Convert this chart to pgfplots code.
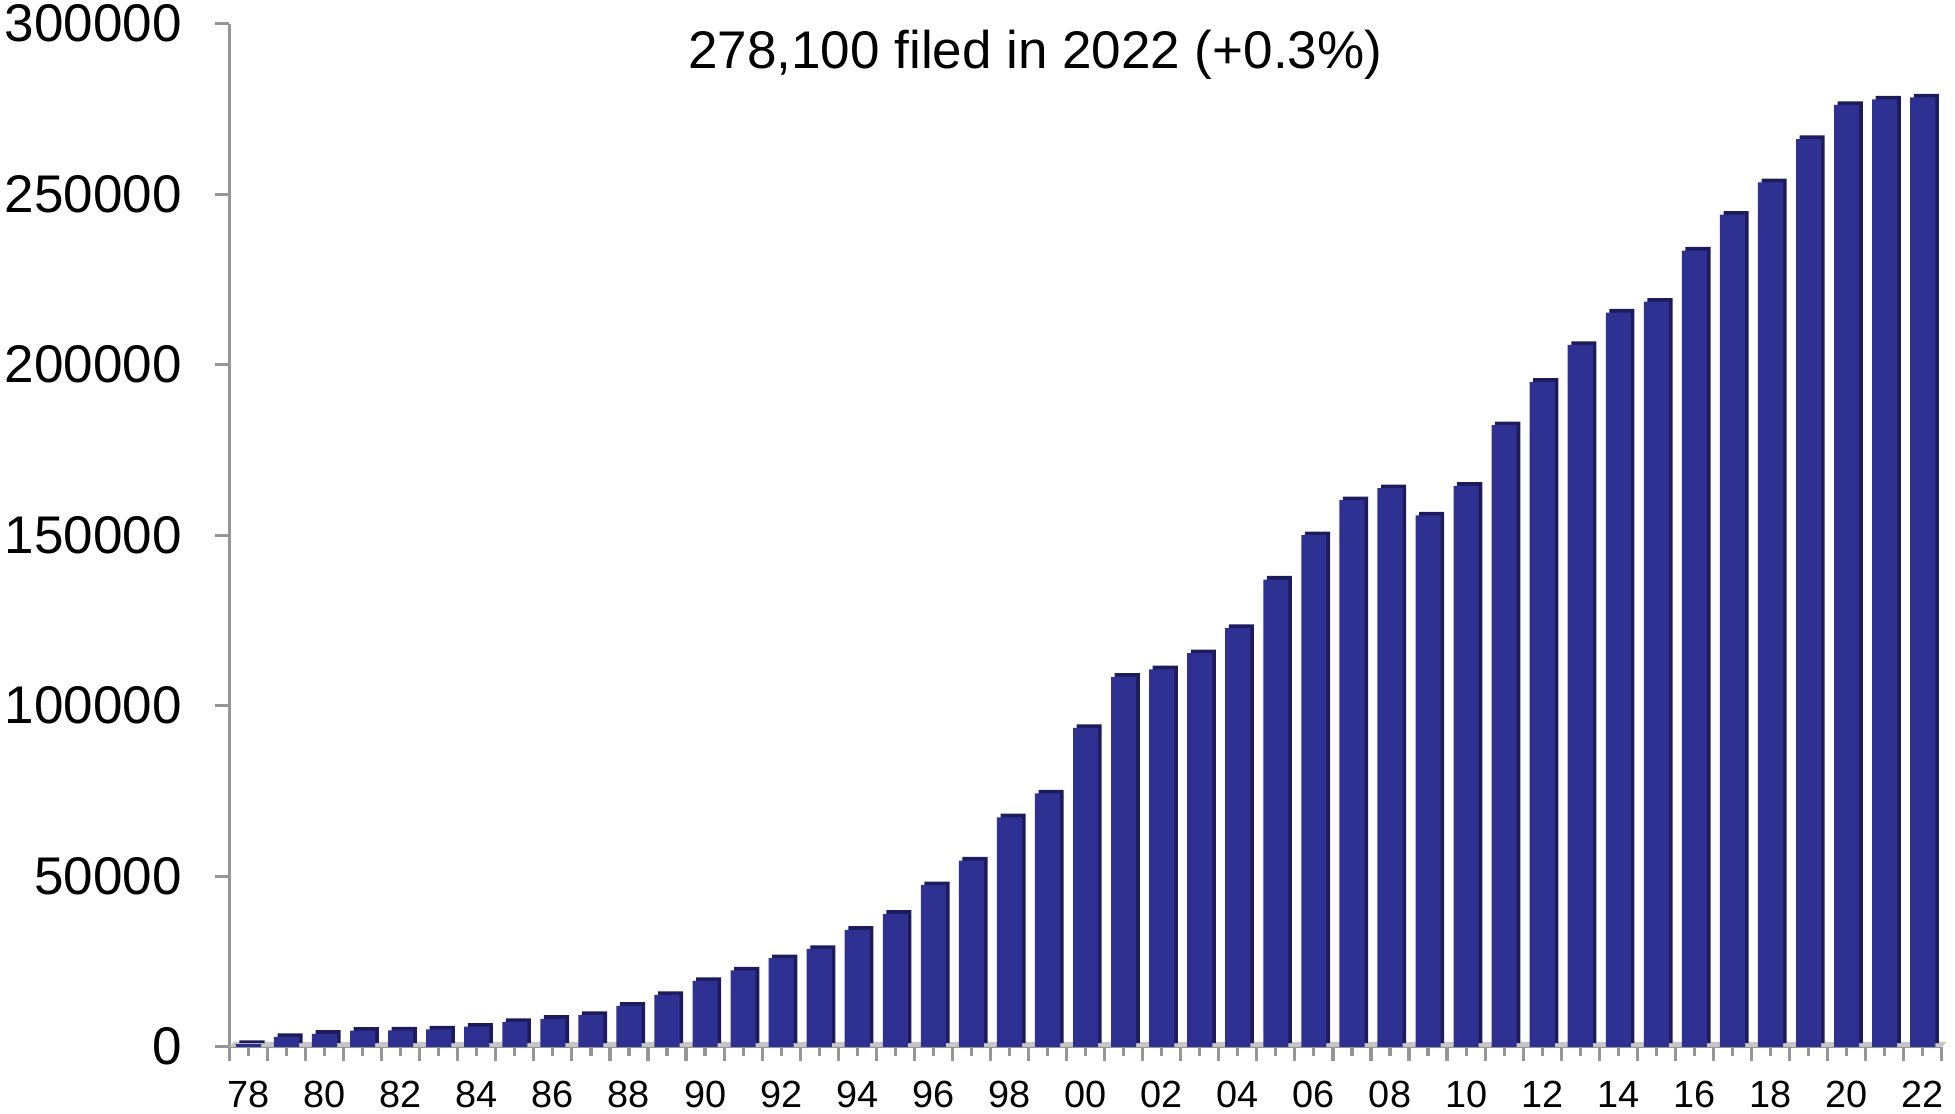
\documentclass[border=0pt]{standalone}
\usepackage{fontspec}
\setmainfont{Liberation Sans}
\usepackage{pgfplots}
\pgfplotsset{compat=1.18}
\usepackage{pgfplotstable}
\definecolor{barfront}{RGB}{46,49,146}
\definecolor{barside}{RGB}{28,28,92}
\definecolor{axgray}{RGB}{150,150,150}
\pgfplotstableread{
x y
0 800
1 2900
2 3800
3 4700
4 4800
5 5100
6 5900
7 7300
8 8200
9 9300
10 12000
11 15200
12 19300
13 22400
14 26000
15 28700
16 34300
17 39000
18 47400
19 54600
20 67300
21 74300
22 93500
23 108500
24 110700
25 115400
26 122800
27 137000
28 150000
29 160300
30 163800
31 155800
32 164500
33 182300
34 195000
35 205800
36 215300
37 218500
38 233500
39 244000
40 253500
41 266200
42 276200
43 277800
44 278400
}\data
\begin{document}
\begin{tikzpicture}
\begin{axis}[
  scale only axis, width=429.75pt, height=256.75pt,
  xmin=-0.5, xmax=44.5, ymin=0, ymax=300000,
  axis lines*=left,
  axis line style={axgray, line width=0.8pt},
  tick style={axgray, line width=0.8pt},
  tick align=outside,
  major tick length=3.5pt,
  minor tick length=2.2pt,
  clip=false,
  ytick={0,50000,...,300000},
  scaled y ticks=false,
  yticklabel style={font=\fontsize{13.3}{16}\selectfont, inner xsep=1.25pt, inner ysep=1.25pt, xshift=-7pt, /pgf/number format/.cd, fixed, 1000 sep={}, assume math mode=true},
  xtick={-0.5,0.5,...,44.5},
  xticklabels={},
  minor xtick={0,1,...,44},
  extra x ticks={0,2,...,44},
  extra x tick labels={78,80,82,84,86,88,90,92,94,96,98,00,02,04,06,08,10,12,14,16,18,20,22},
  extra x tick style={major tick length=2.2pt, xticklabel style={font=\fontsize{9.5}{11}\selectfont, inner xsep=0pt, inner ysep=1.25pt, yshift=-5pt}},
]
\fill[gray!45] (axis cs:-0.5,0) -- (axis cs:44.5,0) -- ([xshift=1.2pt,yshift=1.2pt]axis cs:44.5,0) -- ([xshift=1.2pt,yshift=1.2pt]axis cs:-0.5,0) -- cycle;
\addplot[ybar, bar width=0.66, bar shift=0pt, fill=barside, draw=none, xshift=0.9pt, yshift=0.9pt] table[x=x,y=y]{\data};
\addplot[ybar, bar width=0.66, bar shift=0pt, fill=barfront, draw=none] table[x=x,y=y]{\data};
\node[font=\fontsize{13.3}{16}\selectfont] at (rel axis cs:0.4706,0.970) {278,100 filed in 2022 (+0.3\%)};
\end{axis}
\end{tikzpicture}
\end{document}
